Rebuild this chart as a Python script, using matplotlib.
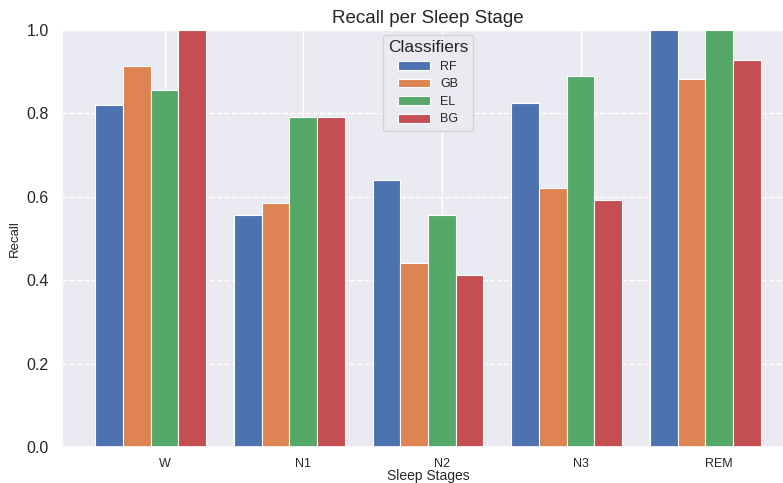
import matplotlib
matplotlib.use("Agg")
import matplotlib.pyplot as plt
import numpy as np
import seaborn as sns

sns.set_theme(style="darkgrid", palette="deep")
plt.rcParams['font.family'] = ['Liberation Sans', 'DejaVu Sans']

# Data
stages = ['W', 'N1', 'N2', 'N3', 'REM']
classifiers = ['RF', 'GB', 'EL', 'BG']
recall_rf = [0.820, 0.556, 0.640, 0.825, 1.000]
recall_gb = [0.914, 0.585, 0.441, 0.620, 0.882]
recall_el = [0.856, 0.791, 0.556, 0.890, 1.000]
recall_bg = [1.000, 0.791, 0.412, 0.593, 0.928]

series = [recall_rf, recall_gb, recall_el, recall_bg]
colors = sns.color_palette("deep", 4)

fig = plt.figure(figsize=(7.83, 4.83), dpi=100)
ax = fig.add_axes([62 / 783, 36 / 483, 732 / 783, 417 / 483])

x = np.arange(len(stages))
width = 0.2
for i, (name, vals) in enumerate(zip(classifiers, series)):
    ax.bar(x + (i - 2) * width, vals, width, label=name, color=colors[i],
           edgecolor='white', linewidth=0.8)

ax.set_xticks(x)
ax.set_xticklabels(stages, fontsize=9)
ax.tick_params(axis='x', pad=2)
ax.tick_params(axis='y', labelsize=11.5)
ax.set_ylim(0, 1.0)
ax.yaxis.grid(True, linestyle='--')
ax.set_xlabel('Sleep Stages', fontsize=10, labelpad=-1)
ax.set_ylabel('Recall', fontsize=9.5, labelpad=4)
ax.set_title('Recall per Sleep Stage', fontsize=13.5, pad=5)

ax.legend(title='Classifiers', loc='upper center', fontsize=9,
          title_fontsize=12.5, handlelength=2.6, labelspacing=0.45,
          borderaxespad=0.4)

fig.savefig('out.png', dpi=100)
